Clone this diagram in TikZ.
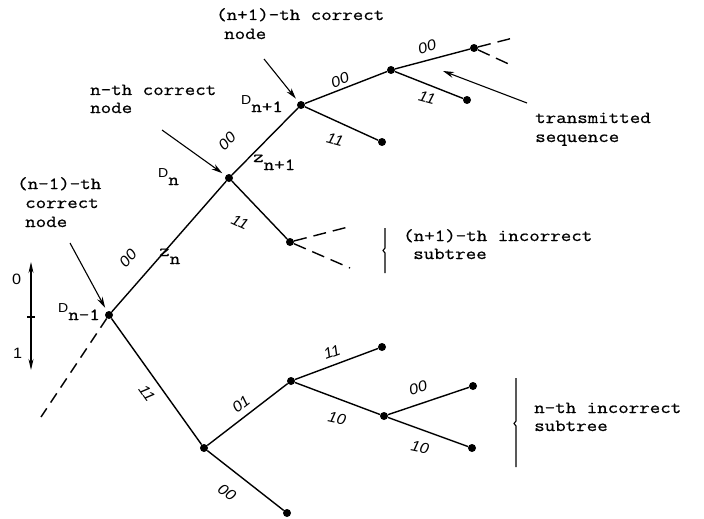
\documentclass[tikz,border=0pt]{standalone}
\usepackage{fontspec}
\newfontfamily\tw[FakeStretch=1.2,FakeBold=0.7]{Latin Modern Mono}
\newfontfamily\dg[FakeStretch=1.08]{Liberation Sans}
\usetikzlibrary{arrows.meta}
\begin{document}
\begin{tikzpicture}[x=1pt,y=-1pt,
  dot/.style={circle,fill=black,inner sep=0pt,minimum size=8pt},
  branch/.style={line width=1.4pt},
  dashbranch/.style={line width=1.4pt,dash pattern=on 11pt off 7pt},
  lead/.style={line width=1.1pt,-{Stealth[length=11pt,width=6pt]},shorten >=4pt},
  txt/.style={font=\tw\fontsize{17}{18}\selectfont,inner sep=0pt,anchor=base west},
  elab/.style={font=\dg\fontsize{15}{15}\selectfont\itshape,inner sep=0pt},
  dlab/.style={font=\tw\fontsize{17}{17}\selectfont,inner sep=0pt,anchor=base west}]
\useasboundingbox (0,0) rectangle (704,519);
% tree nodes
\node[dot] (dn1) at (109,315) {};
\node[dot] (dn) at (229,178) {};
\node[dot] (dnp) at (301,105) {};
\node[dot] (a) at (391,70) {};
\node[dot] (b) at (474,48) {};
\node[dot] (aleaf) at (467,100) {};
\node[dot] (pleaf) at (382,142) {};
\node[dot] (c) at (290,242) {};
\node[dot] (d) at (204,448) {};
\node[dot] (dleaf) at (287,513) {};
\node[dot] (e) at (291,381) {};
\node[dot] (eleaf) at (382,347) {};
\node[dot] (f) at (384,416) {};
\node[dot] (fleafa) at (473,386) {};
\node[dot] (fleafb) at (472,448) {};
% free ends
\coordinate (back) at (41,417);
\coordinate (bu) at (513,38);
\coordinate (bl) at (513,66);
\coordinate (cu) at (352,226);
\coordinate (cl) at (350,268);
% branches
\draw[branch] (dn1) -- (dn) -- (dnp) -- (a) -- (b);
\draw[branch] (a) -- (aleaf);
\draw[branch] (dnp) -- (pleaf);
\draw[branch] (dn) -- (c);
\draw[branch] (dn1) -- (d) -- (dleaf);
\draw[branch] (d) -- (e) -- (eleaf);
\draw[branch] (e) -- (f) -- (fleafa);
\draw[branch] (f) -- (fleafb);
\draw[dashbranch] (dn1) -- (back);
\draw[dashbranch,dash pattern=on 13pt off 7pt] (b) -- (bu);
\draw[dashbranch,dash pattern=on 13pt off 7pt] (b) -- (bl);
\draw[dashbranch,dash pattern=on 13pt off 7pt] (c) -- (cu);
\draw[dashbranch,dash pattern=on 13pt off 7pt] (c) -- (cl);
% edge labels
\node[elab,rotate=49] (l1) at (128,258) {00};
\node[elab,rotate=45] (l2) at (227,141) {00};
\node[elab,rotate=21] (l3) at (340,80) {00};
\node[elab,rotate=15] (l4) at (427,47) {00};
\node[elab,rotate=-15] (l5) at (427,98) {11};
\node[elab,rotate=-15] (l6) at (335,140) {11};
\node[elab,rotate=-25] (l7) at (240,222) {11};
\node[elab,rotate=-55] (l8) at (147,393) {11};
\node[elab,rotate=38] (l9) at (241,404) {01};
\node[elab,rotate=-35] (l10) at (227,492) {00};
\node[elab,rotate=20] (l11) at (332,352) {11};
\node[elab,rotate=-12] (l12) at (337,418) {10};
\node[elab,rotate=15] (l13) at (418,388) {00};
\node[elab,rotate=-12] (l14) at (420,447) {10};
% D and z labels
\node[dlab] (Dn1) at (58,312) {{\dg\fontsize{13}{13}\selectfont D}\raisebox{-8pt}{n-1}};
\node[dlab] (Dn) at (158,177) {{\dg\fontsize{13}{13}\selectfont D}\raisebox{-8pt}{n}};
\node[dlab] (Dnp) at (241,104) {{\dg\fontsize{13}{13}\selectfont D}\raisebox{-8pt}{n+1}};
\node[dlab] (zn) at (159,256) {z\raisebox{-8pt}{n}};
\node[dlab] (znp) at (253,162) {z\raisebox{-8pt}{n+1}};
% text labels
\node[txt] (t1a) at (216,20) {(n+1)-th correct};
\node[txt] (t1b) at (224,39) {node};
\node[txt] (t2a) at (90,95) {n-th correct};
\node[txt] (t2b) at (90,113) {node};
\node[txt] (t3a) at (17,189) {(n-1)-th};
\node[txt] (t3b) at (25,208) {correct};
\node[txt] (t3c) at (25,227) {node};
\node[txt] (t4a) at (535,123) {transmitted};
\node[txt] (t4b) at (535,142) {sequence};
\node[txt] (t5a) at (403,241) {(n+1)-th incorrect};
\node[txt] (t5b) at (413,259) {subtree};
\node[txt] (t6a) at (534,413) {n-th incorrect};
\node[txt] (t6b) at (534,431) {subtree};
% leader arrows
\coordinate (s1) at (70,243);
\coordinate (s2) at (162,130);
\coordinate (s3) at (264,59);
\coordinate (s4) at (527,103);
\coordinate (s4e) at (443,71);
\draw[lead] (s1) -- (dn1);
\draw[lead] (s2) -- (dn);
\draw[lead] (s3) -- (dnp);
\draw[lead,shorten >=0pt] (s4) -- (s4e);
% braces
\draw[line width=1.1pt] (385,228) -- (385,248) -- (383,250.5) -- (385,253) -- (385,273);
\draw[line width=1.1pt] (516,378) -- (516,421) -- (514,423.5) -- (516,426) -- (516,467);
% scale bar
\coordinate (sbt) at (31,262);
\coordinate (sbb) at (31,370);
\coordinate (sbm) at (31,317);
\draw[line width=1.1pt,{Stealth[length=11pt,width=5pt]}-{Stealth[length=11pt,width=5pt]}] (sbt) -- (sbb);
\draw[line width=1.1pt] ([xshift=-4pt]sbm) -- ([xshift=4pt]sbm);
\node[anchor=base west,inner sep=0pt,font=\dg\fontsize{15}{15}\selectfont] (zero) at (12,284) {0};
\node[anchor=base west,inner sep=0pt,font=\dg\fontsize{15}{15}\selectfont] (one) at (13,358) {1};
\end{tikzpicture}
\end{document}
